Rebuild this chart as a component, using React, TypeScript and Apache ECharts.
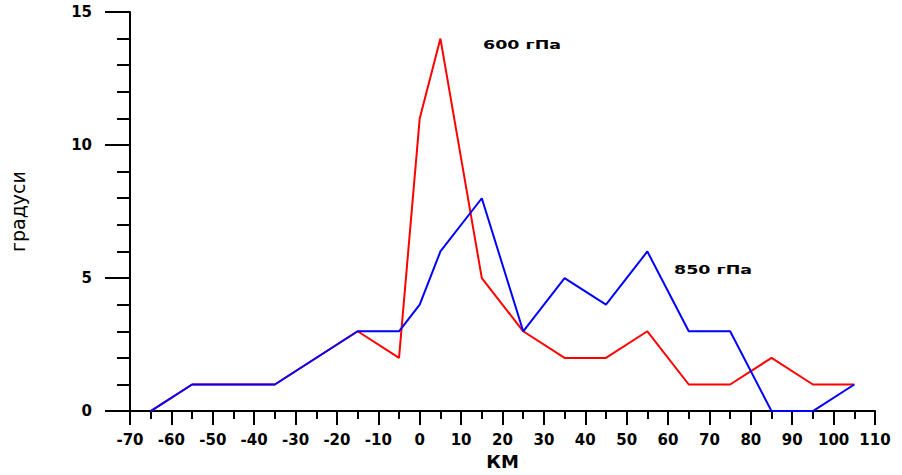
import React, { useEffect, useRef } from "react";
import * as echarts from "echarts";

const xKm = [-65, -55, -35, -15, -5, 0, 5, 15, 25, 35, 45, 55, 65, 75, 85, 95, 105];
const hPa600 = [0, 1, 1, 3, 2, 11, 14, 5, 3, 2, 2, 3, 1, 1, 2, 1, 1];
const hPa850 = [0, 1, 1, 3, 3, 4, 6, 8, 3, 5, 4, 6, 3, 3, 0, 0, 1];
const seriesNames = ["600 гПа", "850 гПа"];
const xAxisName = "КМ";
const yAxisName = "градуси";

const FONT = "DejaVu Sans";

export default function App() {
  const ref = useRef<HTMLDivElement>(null);
  useEffect(() => {
    if (!ref.current) return;
    const chart = echarts.init(ref.current, null, { renderer: "svg" });
    const pairs = (ys: number[]) => xKm.map((x, i) => [x, ys[i]]);
    chart.setOption({
      animation: false,
      backgroundColor: "#ffffff",
      grid: { left: 129, width: 746, top: 12, height: 412, containLabel: false },
      xAxis: {
        type: "value",
        min: -70,
        max: 110,
        interval: 10,
        name: xAxisName,
        nameLocation: "middle",
        nameGap: 34,
        nameTextStyle: { fontFamily: FONT, fontWeight: "bold", fontSize: 18, color: "#000" },
        axisLine: { show: true, onZero: false, lineStyle: { color: "#000", width: 2 } },
        axisTick: { show: true, inside: false, length: 14, lineStyle: { color: "#000", width: 2 } },
        minorTick: { show: true, splitNumber: 2, length: 8, lineStyle: { color: "#000", width: 2 } },
        axisLabel: { margin: 21, fontFamily: FONT, fontWeight: "bold", fontSize: 15, color: "#000" },
        splitLine: { show: false },
        minorSplitLine: { show: false },
      },
      yAxis: {
        type: "value",
        min: 0,
        max: 15,
        interval: 5,
        name: yAxisName,
        nameLocation: "middle",
        nameGap: 103,
        nameRotate: 90,
        nameTextStyle: { fontFamily: FONT, fontSize: 19, color: "#000" },
        axisLine: { show: true, onZero: false, lineStyle: { color: "#000", width: 2 } },
        axisTick: { show: true, inside: false, length: 25, lineStyle: { color: "#000", width: 2 } },
        minorTick: { show: true, splitNumber: 5, length: 13, lineStyle: { color: "#000", width: 2 } },
        axisLabel: { margin: 38, fontFamily: FONT, fontWeight: "bold", fontSize: 15, color: "#000" },
        splitLine: { show: false },
        minorSplitLine: { show: false },
      },
      series: [
        {
          name: seriesNames[0],
          type: "line",
          data: pairs(hPa600),
          showSymbol: false,
          symbol: "none",
          lineStyle: { color: "#ff0000", width: 2 },
          itemStyle: { color: "#ff0000" },
          z: 2,
        },
        {
          name: seriesNames[1],
          type: "line",
          data: pairs(hPa850),
          showSymbol: false,
          symbol: "none",
          lineStyle: { color: "#0000ff", width: 2 },
          itemStyle: { color: "#0000ff" },
          z: 3,
        },
      ],
      graphic: [
        {
          type: "text",
          x: 483,
          y: 45,
          scaleX: 1.4,
          style: {
            text: seriesNames[0],
            fontFamily: FONT,
            fontWeight: "bold",
            fontSize: 12.5,
            fill: "#000",
            verticalAlign: "middle",
            align: "left",
          },
        },
        {
          type: "text",
          x: 674,
          y: 270,
          scaleX: 1.4,
          style: {
            text: seriesNames[1],
            fontFamily: FONT,
            fontWeight: "bold",
            fontSize: 12.5,
            fill: "#000",
            verticalAlign: "middle",
            align: "left",
          },
        },
      ],
    });
    return () => chart.dispose();
  }, []);
  return <div ref={ref} style={{ width: 902, height: 475, position: "absolute", left: 0, top: 0 }} />;
}
